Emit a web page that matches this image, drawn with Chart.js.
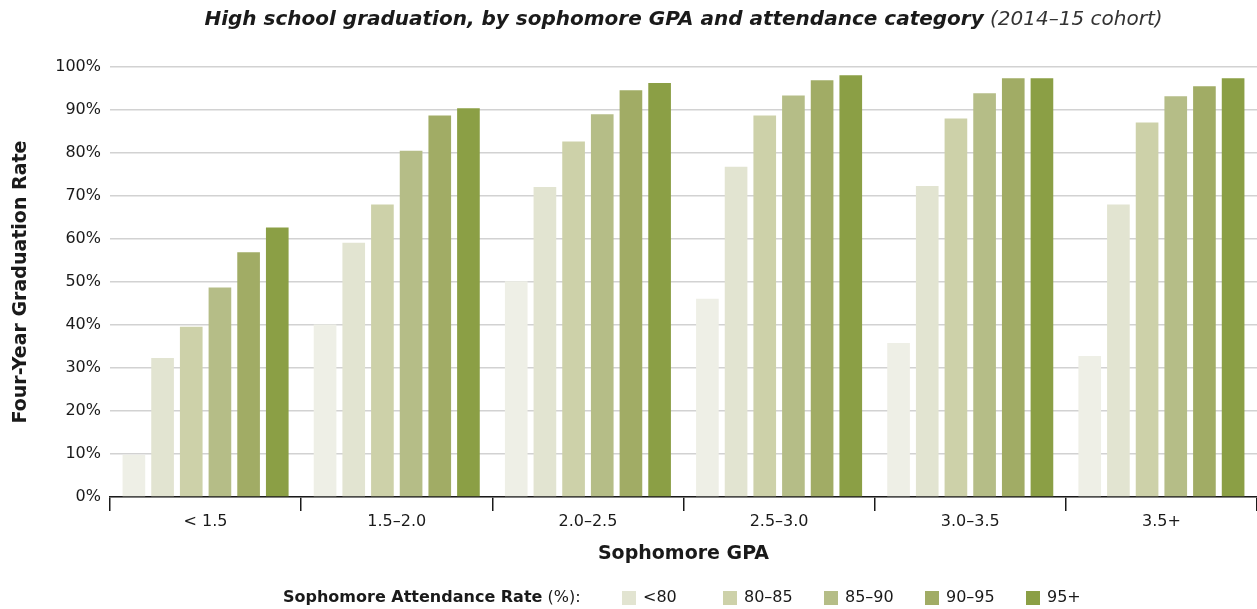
<!DOCTYPE html>
<html>
<head>
<meta charset="utf-8">
<script src="https://cdn.jsdelivr.net/npm/chart.js@4/dist/chart.umd.min.js"></script>
<style>
html, body { margin: 0; padding: 0; background: #fff; }
#wrap { width: 1257px; height: 609px; position: relative; }
</style>
</head>
<body>
<div id="wrap"><canvas id="myChart"></canvas></div>
<script>
// datos
const gpaLabels = ['< 1.5', '1.5–2.0', '2.0–2.5', '2.5–3.0', '3.0–3.5', '3.5+']
const attendanceLabels = ['', '<80', '80–85', '85–90', '90–95', '95+']

const rateLowest = [9.8, 40.1, 50.2, 46.1, 35.8, 32.8]   // sin etiqueta en la leyenda
const rateBelow80 = [32.3, 59.1, 72.1, 76.8, 72.3, 68.0]
const rate80to85 = [39.6, 68.0, 82.7, 88.7, 88.0, 87.1]
const rate85to90 = [48.7, 80.5, 89.0, 93.4, 93.9, 93.2]
const rate90to95 = [56.9, 88.7, 94.6, 96.9, 97.4, 95.5]
const rate95plus = [62.7, 90.4, 96.3, 98.1, 97.4, 97.4]

const yTicks = [0, 10, 20, 30, 40, 50, 60, 70, 80, 90, 100]

const colores = ['#eeefe6', '#e2e4d1', '#cdd1a9', '#b5bd87', '#a1ac65', '#8b9f45']
const series = [rateLowest, rateBelow80, rate80to85, rate85to90, rate90to95, rate95plus]

const FONT = '"DejaVu Sans", sans-serif'

// titulo y leyenda dibujados a mano (mezclan negrita y normal)
const textoExtra = {
    id: 'textoExtra',
    afterDraw(chart) {
        const ctx = chart.ctx
        const area = chart.chartArea
        ctx.save()
        ctx.fillStyle = '#1a1a1a'
        ctx.textBaseline = 'middle'
        ctx.textAlign = 'left'

        // titulo
        const t1 = 'High school graduation, by sophomore GPA and attendance category'
        const t2 = ' (2014–15 cohort)'
        ctx.font = 'italic bold 20px ' + FONT
        const w1 = ctx.measureText(t1).width
        ctx.font = 'italic 20px ' + FONT
        const w2 = ctx.measureText(t2).width
        let x = (area.left + area.right) / 2 - (w1 + w2) / 2
        ctx.font = 'italic bold 20px ' + FONT
        ctx.fillText(t1, x, 20)
        ctx.font = 'italic 20px ' + FONT
        ctx.fillStyle = '#333'
        ctx.fillText(t2, x + w1, 20)

        // leyenda
        const y = 598
        ctx.fillStyle = '#1a1a1a'
        x = 283
        ctx.font = 'bold 16px ' + FONT
        const p1 = 'Sophomore Attendance Rate'
        ctx.fillText(p1, x, y)
        x += ctx.measureText(p1).width
        ctx.font = '16px ' + FONT
        ctx.fillText(' (%):', x, y)
        x = 622
        chart.data.datasets.forEach((ds) => {
            if (!ds.label) return
            ctx.fillStyle = ds.backgroundColor
            ctx.fillRect(x, y - 7, 14, 14)
            ctx.fillStyle = '#1a1a1a'
            ctx.font = '16px ' + FONT
            ctx.fillText(ds.label, x + 21, y)
            x += 101
        })
        ctx.restore()
    }
}

let ctx = document.getElementById('myChart').getContext('2d')
let myChart = new Chart(ctx, {
    type: 'bar',
    data: {
        labels: gpaLabels,
        datasets: series.map((s, i) => ({
            label: attendanceLabels[i],
            data: s,
            backgroundColor: colores[i],
            borderWidth: 0,
            categoryPercentage: 0.9,
            barPercentage: 0.79
        }))
    },
    options: {
        responsive: true,
        maintainAspectRatio: false,
        animation: false,
        layout: { padding: { top: 67, right: 0, bottom: 32, left: 0 } },
        plugins: {
            legend: { display: false },
            title: { display: false },
            tooltip: { enabled: false }
        },
        scales: {
            x: {
                offset: true,
                grid: {
                    display: true,
                    offset: true,
                    drawOnChartArea: false,
                    drawTicks: true,
                    tickLength: 14,
                    color: '#1a1a1a',
                    lineWidth: 1.5
                },
                border: { display: true, color: '#1a1a1a', width: 1.5 },
                ticks: {
                    color: '#1a1a1a',
                    font: { family: FONT, size: 16 },
                    padding: 1
                },
                title: {
                    display: true,
                    text: 'Sophomore GPA',
                    color: '#1a1a1a',
                    font: { family: FONT, size: 19, weight: 'bold' },
                    padding: { top: 0, bottom: 12 }
                },
                afterFit(scale) { scale.height = 80 }
            },
            y: {
                min: 0,
                max: 100,
                afterBuildTicks(scale) { scale.ticks = yTicks.map(v => ({ value: v })) },
                grid: {
                    color: '#d2d2d2',
                    lineWidth: 1.5,
                    drawTicks: false
                },
                border: { display: false },
                ticks: {
                    color: '#1a1a1a',
                    font: { family: FONT, size: 16 },
                    padding: 9,
                    callback: v => v + '%'
                },
                title: {
                    display: true,
                    text: 'Four-Year Graduation Rate',
                    color: '#1a1a1a',
                    font: { family: FONT, size: 19, weight: 'bold' },
                    padding: { top: 10, bottom: 0 }
                },
                afterFit(scale) { scale.width = 110 }
            }
        }
    },
    plugins: [textoExtra]
})
</script>
</body>
</html>
